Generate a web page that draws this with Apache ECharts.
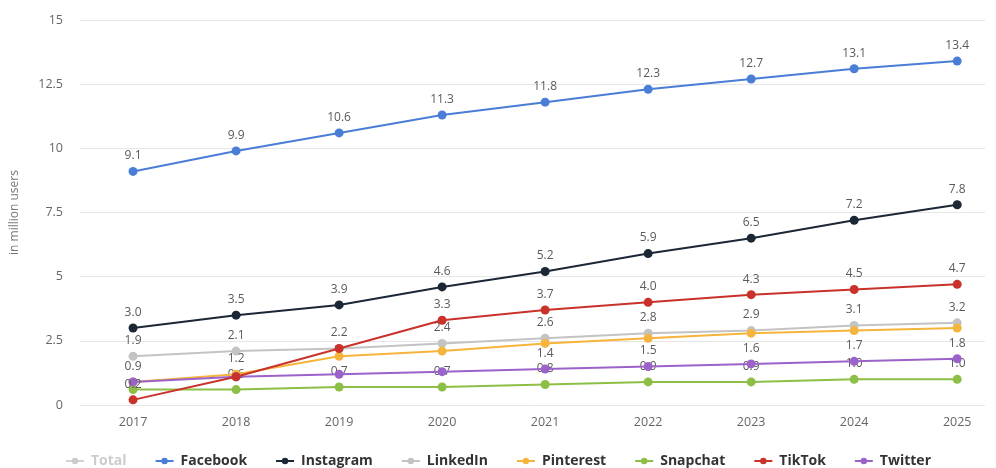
<!DOCTYPE html>
<html>
<head>
<meta charset="utf-8">
<script src="https://cdn.jsdelivr.net/npm/echarts@6/dist/echarts.min.js"></script>
<style>html,body{margin:0;padding:0;background:#fff;}#c{width:996px;height:468px;}</style>
</head>
<body>
<div id="c"></div>
<script>
const years = [2017, 2018, 2019, 2020, 2021, 2022, 2023, 2024, 2025];
const facebook  = [9.1, 9.9, 10.6, 11.3, 11.8, 12.3, 12.7, 13.1, 13.4];
const instagram = [3.0, 3.5, 3.9, 4.6, 5.2, 5.9, 6.5, 7.2, 7.8];
const linkedin  = [1.9, 2.1, 2.2, 2.4, 2.6, 2.8, 2.9, 3.1, 3.2];
const pinterest = [0.9, 1.2, 1.9, 2.1, 2.4, 2.6, 2.8, 2.9, 3.0];
const snapchat  = [0.6, 0.6, 0.7, 0.7, 0.8, 0.9, 0.9, 1.0, 1.0];
const tiktok    = [0.2, 1.1, 2.2, 3.3, 3.7, 4.0, 4.3, 4.5, 4.7];
const twitter   = [0.9, 1.1, 1.2, 1.3, 1.4, 1.5, 1.6, 1.7, 1.8];
const total     = [];
const yTicks = [0, 2.5, 5, 7.5, 10, 12.5, 15];
const legendOrder = ['Total', 'Facebook', 'Instagram', 'LinkedIn', 'Pinterest', 'Snapchat', 'TikTok', 'Twitter'];
// value labels that the reference chart hides because they collide
const hiddenLabels = {
  LinkedIn: [2019],
  TikTok: [2018],
  Snapchat: [2017],
  Pinterest: [2017, 2019, 2020, 2021, 2022, 2023, 2024, 2025],
  Twitter: [2018, 2019, 2020]
};

const colors = {
  Total: '#c8c8c8', Facebook: '#4a7dd6', Instagram: '#1c2735', LinkedIn: '#c3c3c3',
  Pinterest: '#f5b43c', Snapchat: '#8dbf46', TikTok: '#c9312b', Twitter: '#9b63c9'
};
function mk(name, arr, z) {
  const hid = hiddenLabels[name] || [];
  return {
    name, type: 'line', z,
    data: arr.map((v, i) => ({
      value: [years[i], v],
      label: { show: hid.indexOf(years[i]) < 0 }
    })),
    symbol: 'circle', symbolSize: 9,
    lineStyle: { width: 2, color: colors[name] },
    itemStyle: { color: colors[name] },
    label: {
      show: true, position: 'top', distance: 5,
      formatter: p => p.value[1].toFixed(1),
      color: '#5a5a5a', fontSize: 12, fontFamily: 'Open Sans'
    },
    emphasis: { disabled: true }
  };
}
const chart = echarts.init(document.getElementById('c'), null, { renderer: 'canvas' });
chart.setOption({
  animation: false,
  backgroundColor: '#fff',
  color: legendOrder.map(n => colors[n]),
  grid: { left: 80, right: 11, top: 20, bottom: 63, containLabel: false },
  xAxis: {
    type: 'value', min: 2016.485, max: 2025.27,
    axisLine: { show: false }, axisTick: { show: false }, splitLine: { show: false },
    axisLabel: {
      customValues: years, formatter: v => String(v), margin: 11,
      color: '#666', fontSize: 12.5, fontFamily: 'Open Sans'
    }
  },
  yAxis: {
    type: 'value', min: 0, max: 15, interval: 2.5,
    name: 'in million users', nameLocation: 'middle', nameGap: 59,
    nameTextStyle: { color: '#777', fontSize: 12, fontFamily: 'Open Sans' },
    axisLine: { show: false }, axisTick: { show: false },
    axisLabel: {
      customValues: yTicks, margin: 17,
      color: '#666', fontSize: 12.5, fontFamily: 'Open Sans'
    },
    splitLine: { lineStyle: { color: '#e6e6e6', width: 1 } }
  },
  legend: {
    data: legendOrder, top: 452, left: 'center', itemGap: 28,
    itemWidth: 18, itemHeight: 8, padding: [0, 0, 0, 0],
    selected: { Total: false },
    inactiveColor: '#cccccc',
    textStyle: { color: '#333', fontSize: 14, fontWeight: 'bold', fontFamily: 'Open Sans',
                 lineHeight: 18, padding: [0, 0, 0, 2] }
  },
  series: [
    mk('Facebook', facebook, 8),
    mk('Instagram', instagram, 7),
    mk('TikTok', tiktok, 6),
    mk('LinkedIn', linkedin, 3),
    mk('Twitter', twitter, 5),
    mk('Snapchat', snapchat, 2),
    mk('Pinterest', pinterest, 4),
    mk('Total', total, 1)
  ]
});
</script>
</body>
</html>
